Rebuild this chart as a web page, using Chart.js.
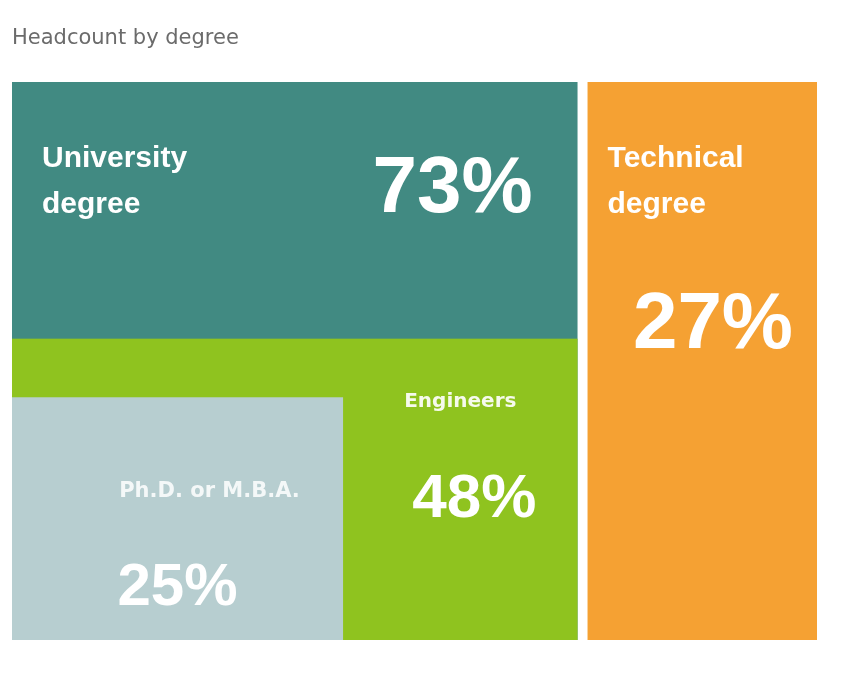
<!DOCTYPE html>
<html>
<head>
<meta charset="utf-8">
<title>Headcount by degree</title>
<script src="https://cdn.jsdelivr.net/npm/chart.js@4.4.1/dist/chart.umd.min.js"></script>
<style>
  html, body { margin: 0; padding: 0; background: #fff; }
  #wrap { width: 842px; height: 677px; }
</style>
</head>
<body>
<div id="wrap"><canvas id="degreeChart"></canvas></div>
<script>
// Headcount share (%) per degree; children sit inside their parent block
const categories = ["University degree", "Technical degree", "Engineers", "Ph.D. or M.B.A."];
const nameLines = [["University", "degree"], ["Technical", "degree"], ["Engineers"], ["Ph.D. or M.B.A."]];
const shares = [73, 27, 48, 25];
const parentOf = [-1, -1, 0, 0];

const colors = ["#418a82", "#f5a133", "#8fc31f", "#b7ced0"];

// nesting geometry in axis units (band = first child, inset = second child)
const nest = { band: 54, insetW: 43, insetH: 43.5 };
const GAP = 10;

// label placement, px relative to the block
const labelStyle = [
  { anchor: "left", dx: 30, dy: 85, lineGap: 46, font: "bold 30px 'Liberation Sans', Arial",
    vAnchor: "right", vdx: -45, vdy: 130, vFont: "bold 80px 'Liberation Sans', Arial", vAlign: "right" },
  { anchor: "left", dx: 20, dy: 85, lineGap: 46, font: "bold 30px 'Liberation Sans', Arial",
    vAnchor: "right", vdx: -24, vdy: 266, vFont: "bold 80px 'Liberation Sans', Arial", vAlign: "right" },
  { anchor: "free", dx: 0, dy: 68, lineGap: 0, font: "bold 20px 'DejaVu Sans'", alpha: 0.92,
    vAnchor: "free", vdx: 14, vdy: 178, vFont: "bold 62px 'Liberation Sans', Arial", vAlign: "center" },
  { anchor: "free", dx: 32, dy: 100, lineGap: 0, font: "bold 21px 'DejaVu Sans'", alpha: 0.85,
    vAnchor: "free", vdx: 0, vdy: 208, vFont: "bold 60px 'Liberation Sans', Arial", vAlign: "center" }
];

function blockRanges(xMax) {
  const r = [];
  let cursor = 0;
  categories.forEach((c, i) => {
    if (parentOf[i] === -1) {
      const end = cursor + shares[i] >= 100 ? xMax : cursor + shares[i];
      r[i] = { x0: cursor, x1: end, y0: 0, y1: 100 };
      cursor += shares[i];
    }
  });
  let k = 0;
  categories.forEach((c, i) => {
    const p = parentOf[i];
    if (p === -1) return;
    const pr = r[p];
    r[i] = k === 0
      ? { x0: pr.x0, x1: pr.x1, y0: pr.y0, y1: nest.band }
      : { x0: pr.x0, x1: pr.x0 + nest.insetW, y0: pr.y0, y1: nest.insetH };
    k++;
  });
  return r;
}

function pixelBoxes(chart) {
  const xs = chart.scales.x, ys = chart.scales.y;
  return blockRanges(xs.max).map(b => ({
    left: xs.getPixelForValue(b.x0) + (b.x0 > xs.min ? GAP / 2 : 0),
    right: xs.getPixelForValue(b.x1) - (b.x1 < xs.max ? GAP / 2 : 0),
    top: ys.getPixelForValue(b.y1),
    bottom: ys.getPixelForValue(b.y0)
  }));
}

const blocksPlugin = {
  id: "blocks",
  beforeDatasetsDraw(chart) {
    const ctx = chart.ctx;
    pixelBoxes(chart).forEach((b, i) => {
      ctx.fillStyle = colors[i];
      ctx.fillRect(b.left, b.top, b.right - b.left, b.bottom - b.top);
    });
  },
  afterDatasetsDraw(chart) {
    const ctx = chart.ctx;
    const boxes = pixelBoxes(chart);
    boxes.forEach((b, i) => {
      // free area to the right of any inset child
      let freeLeft = b.left;
      boxes.forEach((o, j) => {
        if (parentOf[j] === parentOf[i] && j !== i && o.right < b.right && o.top > b.top) freeLeft = Math.max(freeLeft, o.right);
      });
      const st = labelStyle[i];
      const ax = a => a === "left" ? b.left : a === "right" ? b.right : (freeLeft + b.right) / 2;
      ctx.save();
      ctx.fillStyle = "#fff";
      ctx.textBaseline = "alphabetic";
      ctx.globalAlpha = st.alpha || 1;
      ctx.font = st.font;
      ctx.textAlign = st.anchor === "free" ? "center" : "left";
      nameLines[i].forEach((line, n) => {
        ctx.fillText(line, ax(st.anchor) + st.dx, b.top + st.dy + n * st.lineGap);
      });
      ctx.globalAlpha = 1;
      ctx.font = st.vFont;
      ctx.textAlign = st.vAlign;
      ctx.fillText(shares[i] + "%", ax(st.vAnchor) + st.vdx, b.top + st.vdy);
      ctx.restore();
    });
  }
};

new Chart(document.getElementById("degreeChart"), {
  type: "scatter",
  data: {
    datasets: [{
      label: "Headcount",
      data: categories.map((c, i) => ({ x: 0, y: shares[i] })),
      pointRadius: 0,
      pointHoverRadius: 0
    }]
  },
  options: {
    responsive: true,
    maintainAspectRatio: false,
    animation: false,
    layout: { padding: { top: 0, left: 12, right: 25, bottom: 37 } },
    plugins: {
      legend: { display: false },
      tooltip: { enabled: false },
      title: {
        display: true,
        text: "Headcount by degree",
        align: "start",
        color: "#6b6b6b",
        font: { family: "'DejaVu Sans'", size: 21, weight: "normal" },
        padding: { top: 26, bottom: 30.8 }
      }
    },
    scales: {
      // extra room past 100 is the column gap allowance
      x: { type: "linear", min: 0, max: 103, display: false },
      y: { type: "linear", min: 0, max: 100, display: false }
    }
  },
  plugins: [blocksPlugin]
});
</script>
</body>
</html>
